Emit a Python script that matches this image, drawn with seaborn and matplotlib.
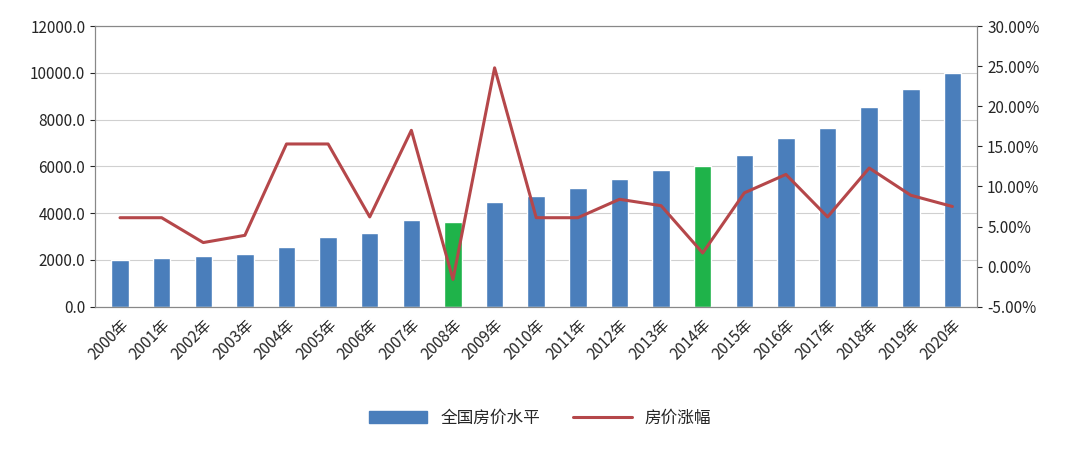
import matplotlib.pyplot as plt
import seaborn as sns
import pandas as pd
from matplotlib.ticker import FuncFormatter
from matplotlib.patches import Patch
from matplotlib.lines import Line2D

years = [f"{y}年" for y in range(2000, 2021)]
price = [2000, 2100, 2150, 2250, 2550, 2980, 3150, 3700, 3620, 4480, 4730,
         5080, 5460, 5850, 6020, 6500, 7230, 7650, 8550, 9300, 10000]
growth = [6.1, 6.1, 3.0, 3.9, 15.3, 15.3, 6.2, 17.0, -1.6, 24.8, 6.1,
          6.1, 8.4, 7.6, 1.7, 9.2, 11.5, 6.2, 12.3, 8.9, 7.5]
highlight = ["2008年", "2014年"]

sns.set_style("white")
plt.rcParams['font.family'] = ['Noto Sans CJK SC', 'DejaVu Sans']

df = pd.DataFrame({"year": years, "price": price, "growth": growth})
colors = ["#1fb34a" if y in highlight else "#4a7ebb" for y in years]

fig, ax = plt.subplots(figsize=(10.8, 4.51), dpi=100)
fig.subplots_adjust(left=0.088, right=0.905, top=0.942, bottom=0.32)

sns.barplot(data=df, x="year", y="price", hue="year", palette=colors,
            legend=False, width=0.42, saturation=1, ax=ax, zorder=2)
ax.set_xlim(-0.6, len(years) - 0.4)
ax.set_ylim(0, 12000)
ax.set_yticks(range(0, 12001, 2000))
ax.yaxis.set_major_formatter(FuncFormatter(lambda v, p: f"{v:.1f}"))
ax.grid(axis="y", color="#d0d0d0", lw=0.8, zorder=0)
ax.set_xlabel("")
ax.set_ylabel("")
ax.tick_params(axis="x", rotation=45, labelsize=11)
ax.tick_params(axis="y", labelsize=11)
for lbl in ax.get_xticklabels():
    lbl.set_ha("right")
    lbl.set_rotation_mode("anchor")
for s in ax.spines.values():
    s.set_color("#888888")

ax2 = ax.twinx()
sns.lineplot(x=list(range(len(years))), y=growth, color="#b5474a", lw=2.2, ax=ax2)
ax2.set_ylim(-5, 30)
ax2.set_yticks(range(-5, 31, 5))
ax2.yaxis.set_major_formatter(FuncFormatter(lambda v, p: f"{v:.2f}%"))
ax2.tick_params(axis="y", labelsize=11)
for s in ax2.spines.values():
    s.set_color("#888888")

handles = [Patch(color="#4a7ebb", label="全国房价水平"),
           Line2D([0], [0], color="#b5474a", lw=2.2, label="房价涨幅")]
fig.legend(handles=handles, loc="lower center", ncol=2, frameon=False,
           bbox_to_anchor=(0.5, 0.02), fontsize=12, handlelength=3.5)

fig.savefig("out.png", dpi=100)
